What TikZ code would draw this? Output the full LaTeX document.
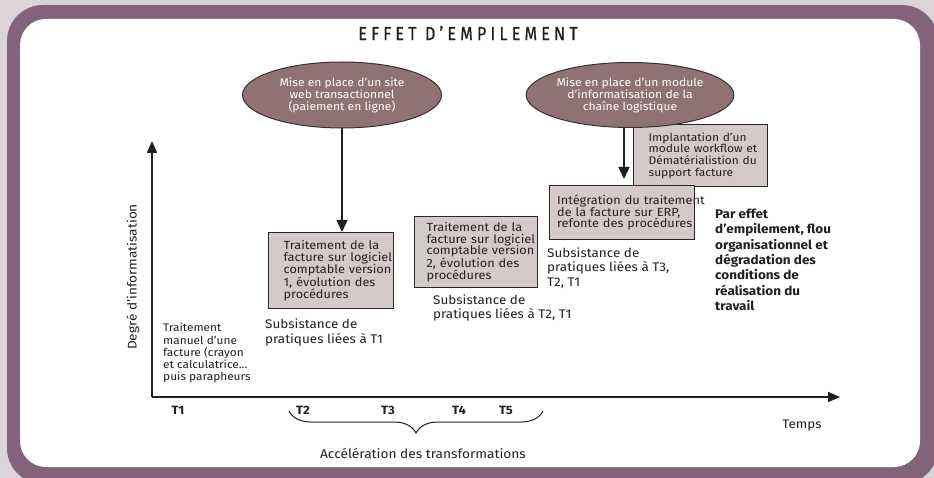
\documentclass[tikz,border=0pt]{standalone}
\usepackage{fontspec}
\setmainfont[FakeStretch=1.08]{Fira Sans}
\newfontfamily\titlefont[LetterSpace=22,FakeStretch=0.85,FakeBold=0.6]{Fira Sans}
\usetikzlibrary{shapes.geometric,arrows.meta,decorations.pathreplacing}
\definecolor{bgc}{HTML}{DDD4DA}
\definecolor{framec}{HTML}{82637B}
\definecolor{ellc}{HTML}{8F7374}
\definecolor{elledge}{HTML}{3A3035}
\definecolor{boxc}{HTML}{D5CACA}
\definecolor{boxedge}{HTML}{2A2627}
\definecolor{txt}{HTML}{231F20}
\tikzset{
  ellip/.style={ellipse, draw=elledge, line width=1pt, fill=ellc, text=white,
    inner sep=0pt, align=center, font=\fontsize{11.2}{12}\selectfont},
  stepbox/.style={draw=boxedge, fill=boxc, line width=1.3pt, anchor=north west,
    align=left, inner ysep=0pt, text=txt, font=\fontsize{11.8}{11.8}\selectfont},
  plain/.style={inner sep=0pt, align=left, text=txt, anchor=north west},
  subs/.style={plain, font=\fontsize{12.5}{14.5}\selectfont},
  tlab/.style={inner sep=0pt, text=txt, font=\fontsize{12}{13}\bfseries\selectfont},
  axis/.style={line width=1.5pt, draw=txt, -{Triangle[length=12pt,width=10pt]}},
  conn/.style={line width=1.5pt, draw=txt, -{Triangle[length=12pt,width=11pt]}},
}
\begin{document}
\begin{tikzpicture}[x=1pt,y=-1pt]
\useasboundingbox (0,0) rectangle (934,478);
\fill[bgc] (0,0) rectangle (934,478);
\fill[framec, rounded corners=36pt] (7,5) rectangle (938,484);
\fill[white, rounded corners=26pt] (20,19) rectangle (920,467);

\node[inner sep=0pt, text=txt, font=\titlefont\fontsize{19}{20}\selectfont] (title) at (468,33) {EFFET D’EMPILEMENT};

% axes
\coordinate (O) at (152,397);
\coordinate (ytip) at (152,141);
\coordinate (xtip) at (840,397);
\draw[axis] (O) -- (ytip);
\draw[axis] (O) -- (xtip);
\node[rotate=90, inner sep=0pt, text=txt, font=\fontsize{12.6}{14}\selectfont] (ylab) at (133,277) {Degré d'informatisation};

% boxes
\node[stepbox, inner xsep=15pt, text width=95pt, minimum height=76pt] (b1) at (268,232)
  {\mbox{Traitement de la}\\\mbox{facture sur logiciel}\\\mbox{comptable version}\\\mbox{1, évolution des}\\\mbox{procédures}};
\node[stepbox, inner xsep=12pt, text width=99pt, minimum height=71pt] (b2) at (414,216)
  {\mbox{Traitement de la}\\\mbox{facture sur logiciel}\\\mbox{comptable version}\\\mbox{2, évolution des}\\\mbox{procédures}};
\node[stepbox, inner xsep=15pt, text width=104pt, minimum height=62pt, font=\fontsize{11.1}{11.8}\selectfont] (b3) at (633,124)
  {\mbox{Implantation d'un}\\\mbox{module workflow et}\\\mbox{Dématérialistion du}\\\mbox{support facture}};
\node[stepbox, inner xsep=7.5pt, text width=130pt, minimum height=54pt] (b4) at (549,185)
  {\mbox{Intégration du traitement}\\\mbox{de la facture sur ERP,}\\\mbox{refonte des procédures}};

% ellipses
\node[ellip, minimum width=199pt, minimum height=66pt] (e1) at (342,95)
  {Mise en place d'un site\\web transactionnel\\(paiement en ligne)};
\node[ellip, minimum width=196pt, minimum height=65pt] (e2) at (630,95)
  {Mise en place d'un module\\d'informatisation de la\\chaîne logistique};

% connectors
\draw[conn] (e1.south) -- (e1.south |- b1.north);
\coordinate (a2end) at (624,179);
\draw[conn] (e2.south -| a2end) -- (a2end);

% texts
\node[plain, font=\fontsize{11}{12.3}\selectfont] (manual) at (163,323)
  {Traitement\\manuel d'une\\facture (crayon\\et calculatrice...\\puis parapheurs};
\node[subs] (s1) at (265,319) {Subsistance de\\pratiques liées à T1};
\node[subs] (s2) at (433,294.5) {Subsistance de\\pratiques liées à T2, T1};
\node[subs] (s3) at (547,247.5) {Subsistance de\\pratiques liées à T3,\\T2, T1};
\node[plain, font=\fontsize{12.5}{15.3}\bfseries\selectfont] (concl) at (715,209)
  {Par effet\\d'empilement, flou\\organisationnel et\\dégradation des\\conditions de\\réalisation du\\travail};

% time labels
\node[tlab] (t1) at (178,410) {T1};
\node[tlab] (t2) at (303,410) {T2};
\node[tlab] (t3) at (388,410) {T3};
\node[tlab] (t4) at (459,410) {T4};
\node[tlab] (t5) at (506,410) {T5};
\node[inner sep=0pt, anchor=base, text=txt, font=\fontsize{12.4}{14}\selectfont] (temps) at (802,428) {Temps};

% brace
\coordinate (bl) at (289,411);
\coordinate (br) at (543,411);
\draw[txt, line width=1pt, decorate, decoration={brace, mirror, amplitude=22pt}] (bl) -- (br);
\node[inner sep=0pt, anchor=base, text=txt, font=\fontsize{12.7}{14}\selectfont] (accel) at (423,458) {Accélération des transformations};
\end{tikzpicture}
\end{document}
